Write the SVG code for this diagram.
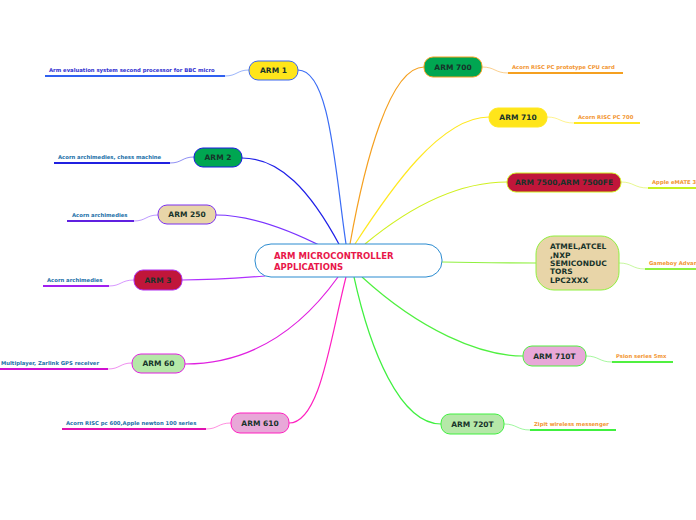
<svg xmlns="http://www.w3.org/2000/svg" width="696" height="520" viewBox="0 0 696 520">
<style>
.n{font-family:"DejaVu Sans",sans-serif;font-weight:bold;font-size:7.5px;fill:#17332a;text-anchor:middle}
.l{font-family:"DejaVu Sans",sans-serif;font-weight:bold;font-size:5.3px}
.b{fill:#1a6fa8}.o{fill:#f29530}
path{fill:none}
.c{stroke-width:1.2}
.u{stroke-width:2}
.s{stroke-width:1;opacity:.5}
</style>
<rect width="696" height="520" fill="#fff"/>
<g id="connectors">
<path class="c" stroke="#3a6cf5" d="M346,244 C335,170 330,70 298,70"/>
<path class="c" stroke="#2020e8" d="M340,246 C310,190 280,158 242,158"/>
<path class="c" stroke="#7a33ff" d="M325,248 C290,230 250,215 216,215"/>
<path class="c" stroke="#b030ff" d="M265,276 C240,278 210,280 182,280"/>
<path class="c" stroke="#e020e0" d="M338,277 C300,330 250,364 185,364"/>
<path class="c" stroke="#ff20c0" d="M346,277 C330,340 320,423 289,423"/>
<path class="c" stroke="#f5a020" d="M350,244 C365,160 390,67 424,67"/>
<path class="c" stroke="#ffe820" d="M355,244 C390,190 440,117 489,117"/>
<path class="c" stroke="#d0f020" d="M365,244 C400,215 450,182 507,182"/>
<path class="c" stroke="#90f040" d="M442,262 C480,263 510,263 536,263"/>
<path class="c" stroke="#50f040" d="M362,277 C420,330 480,356 523,356"/>
<path class="c" stroke="#40f040" d="M354,277 C370,350 400,424 441,424"/>
<path class="s" stroke="#3a6cf5" d="M225,76 C237,76 237,70 249,70"/>
<path class="u" stroke="#3060f0" d="M45,76 H225"/>
<path class="s" stroke="#2020e8" d="M170,163 C182,163 182,157 194,157"/>
<path class="u" stroke="#2020e0" d="M54,163 H170"/>
<path class="s" stroke="#7a33ff" d="M134,221 C146,221 146,215 158,215"/>
<path class="u" stroke="#6020e0" d="M67,221 H134"/>
<path class="s" stroke="#b030ff" d="M109,286 C121,286 121,280 134,280"/>
<path class="u" stroke="#a020f0" d="M43,286 H109"/>
<path class="s" stroke="#e020e0" d="M108,369 C120,369 120,363 132,363"/>
<path class="u" stroke="#d010d0" d="M0,369 H108"/>
<path class="s" stroke="#ff20c0" d="M206,429 C218,429 218,423 231,423"/>
<path class="u" stroke="#e010b0" d="M62,429 H206"/>
<path class="s" stroke="#f5a020" d="M482,67 C495,67 495,73 508,73"/>
<path class="u" stroke="#f5a020" d="M508,73 H623"/>
<path class="s" stroke="#ffe820" d="M547,117 C560,117 560,123 574,123"/>
<path class="u" stroke="#ffe820" d="M574,123 H640"/>
<path class="s" stroke="#d0f020" d="M621,182 C634,182 634,188 648,188"/>
<path class="u" stroke="#c8f020" d="M648,188 H696"/>
<path class="s" stroke="#90f040" d="M619,263 C632,263 632,269 645,269"/>
<path class="u" stroke="#90f040" d="M645,269 H696"/>
<path class="s" stroke="#50f040" d="M586,356 C599,356 599,362 612,362"/>
<path class="u" stroke="#50f040" d="M612,362 H673"/>
<path class="s" stroke="#40f040" d="M504,424 C517,424 517,430 530,430"/>
<path class="u" stroke="#40f040" d="M530,430 H616"/>
</g>
<g id="center"><rect x="255" y="244" width="187" height="33" rx="16" fill="#fff" stroke="#2a8bd0"/>
<text font-family="DejaVu Sans,sans-serif" font-weight="bold" font-size="8.5" fill="#e8174a"><tspan x="274" y="259">ARM MICROCONTROLLER</tspan><tspan x="274" y="270">APPLICATIONS</tspan></text></g>
<g id="arm1"><rect x="249" y="61" width="49" height="19" rx="9" fill="#ffe51a" stroke="#3a66f0"/><text class="n" x="273.5" y="73">ARM 1</text><text class="l" x="49" y="72" fill="#3030d0">Arm evaluation system second processor for BBC micro</text></g>
<g id="arm2"><rect x="194" y="148" width="48" height="19" rx="9" fill="#00a651" stroke="#1a1ae0"/><text class="n" x="218" y="160">ARM 2</text><text class="l b" x="58" y="159">Acorn archimedies, chess machine</text></g>
<g id="arm250"><rect x="158" y="205" width="58" height="19" rx="9" fill="#e8d5a8" stroke="#7a30f0"/><text class="n" x="187" y="217">ARM 250</text><text class="l b" x="72" y="217">Acorn archimedies</text></g>
<g id="arm3"><rect x="134" y="270" width="48" height="20" rx="9" fill="#c0163a" stroke="#b030f0"/><text class="n" x="158" y="283">ARM 3</text><text class="l b" x="47" y="282">Acorn archimedies</text></g>
<g id="arm60"><rect x="132" y="354" width="53" height="19" rx="9" fill="#b5e8a8" stroke="#e020e0"/><text class="n" x="158.5" y="366">ARM 60</text><text class="l b" x="1" y="365">Multiplayer, Zarlink GPS receiver</text></g>
<g id="arm610"><rect x="231" y="413" width="58" height="20" rx="9" fill="#e8a8d8" stroke="#ff20c0"/><text class="n" x="260" y="426">ARM 610</text><text class="l b" x="66" y="425">Acorn RISC pc 600,Apple newton 100 series</text></g>
<g id="arm700"><rect x="424" y="57" width="58" height="20" rx="9" fill="#00a651" stroke="#f5a020"/><text class="n" x="453" y="70">ARM 700</text><text class="l o" x="512" y="69">Acorn RISC PC prototype CPU card</text></g>
<g id="arm710"><rect x="489" y="108" width="58" height="19" rx="9" fill="#ffe51a" stroke="#ffe820"/><text class="n" x="518" y="120">ARM 710</text><text class="l o" x="578" y="119">Acorn RISC PC 700</text></g>
<g id="arm7500"><rect x="507" y="173" width="114" height="19" rx="9" fill="#c0163a" stroke="#d0f020"/><text class="n" x="564" y="185">ARM 7500,ARM 7500FE</text><text class="l o" x="652" y="184">Apple eMATE 300</text></g>
<g id="atmel"><rect x="536" y="236" width="83" height="54" rx="18" fill="#e8d5a8" stroke="#90f040"/><text class="n" style="text-anchor:start" x="550"><tspan x="550" y="249">ATMEL,ATCEL</tspan><tspan x="550" y="257.5">,NXP</tspan><tspan x="550" y="266">SEMICONDUC</tspan><tspan x="550" y="274">TORS</tspan><tspan x="550" y="283">LPC2XXX</tspan></text><text class="l o" x="649" y="265">Gameboy Advance</text></g>
<g id="arm710t"><rect x="523" y="346" width="63" height="20" rx="9" fill="#e8a8d8" stroke="#50f040"/><text class="n" x="554.5" y="359">ARM 710T</text><text class="l o" x="616" y="358">Psion series 5mx</text></g>
<g id="arm720t"><rect x="441" y="414" width="63" height="20" rx="9" fill="#b5e8a8" stroke="#40f040"/><text class="n" x="472.5" y="427">ARM 720T</text><text class="l o" x="534" y="426">Zipit wireless messenger</text></g>
</svg>
